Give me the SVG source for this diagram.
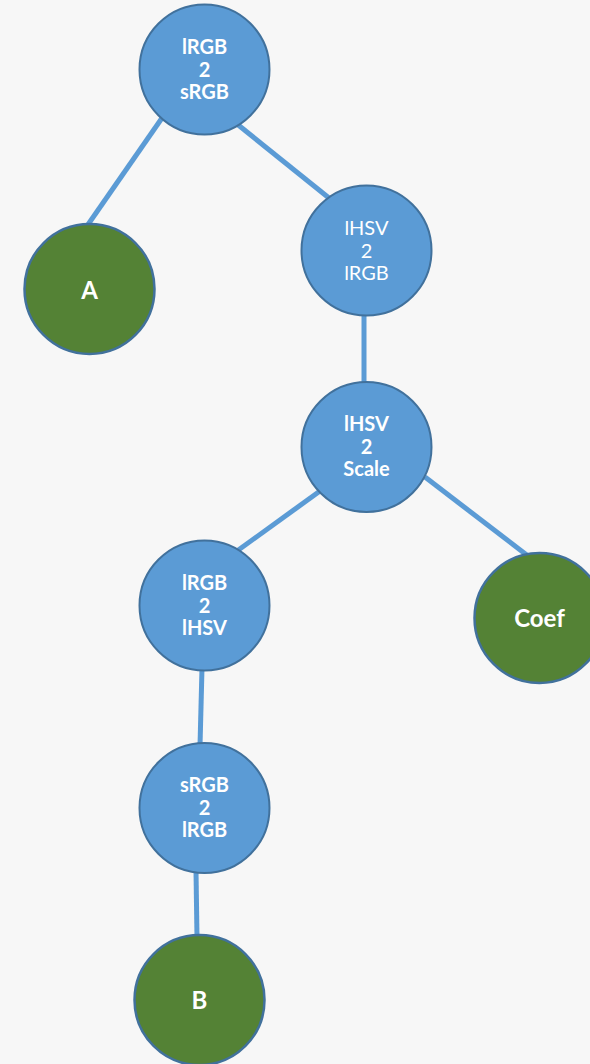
<svg xmlns="http://www.w3.org/2000/svg" width="590" height="1064" viewBox="0 0 590 1064">
  <style>
    .edge { stroke: #5B9BD5; stroke-width: 5; fill: none; }
    .op { fill: #5B9BD5; stroke: #41719C; stroke-width: 2; }
    .leaf { fill: #548235; stroke: #41719C; stroke-width: 2.5; }
    text { font-family: Lato, "Open Sans", "Liberation Sans", sans-serif; font-size: 20px; fill: #FFFFFF; text-anchor: middle; font-weight: bold; }
    text.thin { font-weight: normal; }
    text.big { font-size: 24px; }
  </style>
  <rect width="590" height="1064" fill="#F7F7F7"/>

  <g id="connectors">
    <line class="edge" x1="162" y1="118" x2="87" y2="226"/>
    <line class="edge" x1="237" y1="124" x2="329" y2="198"/>
    <line class="edge" x1="364" y1="313" x2="364" y2="384"/>
    <line class="edge" x1="320" y1="491" x2="237" y2="551"/>
    <line class="edge" x1="425" y1="477" x2="528" y2="556"/>
    <line class="edge" x1="202" y1="668" x2="200" y2="746"/>
    <line class="edge" x1="196" y1="871" x2="197" y2="938"/>
  </g>

  <g id="node-lrgb2srgb">
    <circle class="op" cx="204.5" cy="69.5" r="65"/>
    <text x="204.5" y="54">lRGB</text>
    <text x="204.5" y="77">2</text>
    <text x="204.5" y="99">sRGB</text>
  </g>

  <g id="node-a">
    <circle class="leaf" cx="89.5" cy="289" r="65"/>
    <text class="big" x="89.5" y="299">A</text>
  </g>

  <g id="node-lhsv2lrgb">
    <circle class="op" cx="366.5" cy="250.5" r="65"/>
    <text class="thin" x="366.5" y="235">lHSV</text>
    <text class="thin" x="366.5" y="258">2</text>
    <text class="thin" x="366.5" y="280">lRGB</text>
  </g>

  <g id="node-lhsv2scale">
    <circle class="op" cx="366.5" cy="447" r="65"/>
    <text x="366.5" y="431">lHSV</text>
    <text x="366.5" y="454">2</text>
    <text x="366.5" y="476">Scale</text>
  </g>

  <g id="node-lrgb2lhsv">
    <circle class="op" cx="204.5" cy="605.5" r="65"/>
    <text x="204.5" y="590">lRGB</text>
    <text x="204.5" y="613">2</text>
    <text x="204.5" y="635">lHSV</text>
  </g>

  <g id="node-coef">
    <circle class="leaf" cx="539.5" cy="618" r="65"/>
    <text class="big" x="539.5" y="627">Coef</text>
  </g>

  <g id="node-srgb2lrgb">
    <circle class="op" cx="204.5" cy="808" r="65"/>
    <text x="204.5" y="792">sRGB</text>
    <text x="204.5" y="815">2</text>
    <text x="204.5" y="837">lRGB</text>
  </g>

  <g id="node-b">
    <circle class="leaf" cx="199.5" cy="1000" r="65"/>
    <text class="big" x="199.5" y="1009">B</text>
  </g>
</svg>
